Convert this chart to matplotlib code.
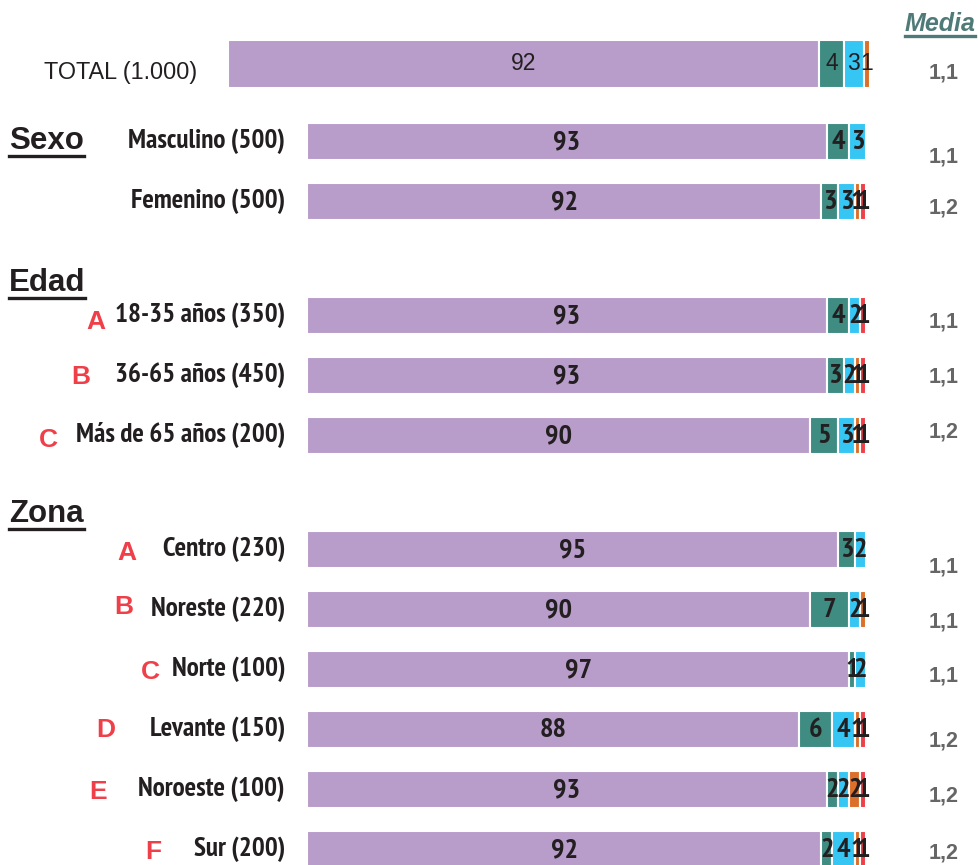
import matplotlib
matplotlib.use("Agg")
import matplotlib.pyplot as plt
from matplotlib import font_manager
from matplotlib.lines import Line2D

# ---------------- data ----------------
categories = ["TOTAL (1.000)", "Masculino (500)", "Femenino (500)",
              "18-35 años (350)", "36-65 años (450)", "Más de 65 años (200)",
              "Centro (230)", "Noreste (220)", "Norte (100)", "Levante (150)",
              "Noroeste (100)", "Sur (200)"]
letters = ["", "", "", "A", "B", "C", "A", "B", "C", "D", "E", "F"]
purple = [92, 93, 92, 93, 93, 90, 95, 90, 97, 88, 93, 92]
teal = [4, 4, 3, 4, 3, 5, 3, 7, 1, 6, 2, 2]
blue = [3, 3, 3, 2, 2, 3, 2, 2, 2, 4, 2, 4]
orange = [1, 0, 1, 0, 1, 1, 0, 1, 0, 1, 2, 1]
red = [0, 0, 1, 1, 1, 1, 0, 0, 0, 1, 1, 1]
media = ["1,1", "1,1", "1,2", "1,1", "1,1", "1,2",
         "1,1", "1,1", "1,1", "1,2", "1,2", "1,2"]
headings = ["Sexo", "Edad", "Zona"]

series = [purple, teal, blue, orange, red]
colors = ["#B89CCA", "#3E8C82", "#35C6F4", "#DC6F29", "#EF3F48"]

W, H = 979, 865
fig = plt.figure(figsize=(W / 100, H / 100), dpi=100)

bold_names = {f.name for f in font_manager.fontManager.ttflist
              if (f.weight if isinstance(f.weight, int) else 700 if f.weight == "bold" else 400) >= 700
              and f.style == "normal"}
narrow = "Liberation Sans"
for cand in ["Liberation Sans Narrow", "Arial Narrow", "Archivo Narrow",
             "PT Sans Narrow", "Roboto Condensed", "Fira Sans Condensed",
             "IBM Plex Sans Condensed", "Encode Sans Condensed", "Asap Condensed",
             "Barlow Semi Condensed", "Sofia Sans Condensed", "Pragati Narrow",
             "Open Sans Condensed", "DejaVu Sans Condensed"]:
    if cand in bold_names:
        narrow = cand
        break
arial = "Liberation Sans"

# ---------------- layout (pixels) ----------------
row_y = [64, 141, 201, 315, 375, 435, 549, 609, 669, 729, 789, 849]
media_dy = [9, 16, 7, 7, 2, -3, 18, 13, 7, 12, 7, 4]
letter_x = [0, 0, 0, 96, 81, 48, 127, 124, 150, 106, 98, 153]
letter_dy = [0, 0, 0, 7, 2, 5, 4, -2, 3, 1, 3, 3]
heading_y = [141, 283, 514]


def fx(x):
    return x / W


def fy(y):
    return 1 - y / H


# calibrate narrow font size so "Masculino (500)" is ~163 px wide
probe = fig.text(0, 0, "Masculino (500)", fontsize=18.5, family=narrow, weight="bold")
fig.canvas.draw()
pw = probe.get_window_extent(renderer=fig.canvas.get_renderer()).width
probe.remove()
nsize = min(19.5, 18.5 * 163.0 / pw)
dsize = nsize * 1.05

ax_tot = fig.add_axes([fx(228), 0, (870 - 228) / W, 1])
ax_main = fig.add_axes([fx(307), 0, (866 - 307) / W, 1])
for ax in (ax_tot, ax_main):
    ax.set_xlim(0, 100)
    ax.set_ylim(H, 0)
    ax.axis("off")
    ax.patch.set_alpha(0)

for i, cat in enumerate(categories):
    ax = ax_tot if i == 0 else ax_main
    h = 48 if i == 0 else 37
    left = 0
    for s, col in zip(series, colors):
        v = s[i]
        if v > 0:
            ax.barh(row_y[i], v, left=left, height=h, color=col,
                    edgecolor="white", linewidth=1.5)
            if i == 0:
                ax.text(left + v / 2, row_y[i], str(v), ha="center", va="center",
                        fontsize=16.5, color="#231F20", family=arial)
            else:
                ax.text(left + v / 2, row_y[i] + 1, str(v), ha="center", va="center",
                        fontsize=dsize, color="#231F20", family=narrow, weight="bold")
        left += v

    if i == 0:
        fig.text(fx(197), fy(row_y[i] + 8), cat, ha="right", va="center",
                 fontsize=16.8, color="#231F20", family=arial)
    else:
        fig.text(fx(285), fy(row_y[i]), cat, ha="right", va="center",
                 fontsize=nsize, color="#231F20", family=narrow, weight="bold")
    if letters[i]:
        fig.text(fx(letter_x[i]), fy(row_y[i] + letter_dy[i]), letters[i],
                 ha="center", va="center", fontsize=19, color="#EF3F48",
                 family=arial, weight="bold")
    fig.text(fx(944), fy(row_y[i] + media_dy[i]), media[i], ha="center", va="center",
             fontsize=15.5, color="#666666", family=arial, weight="bold")

texts_ul = []
for g, yy in zip(headings, heading_y):
    t = fig.text(fx(9), fy(yy), g, ha="left", va="center", fontsize=22.5,
                 color="#231F20", family=arial, weight="bold")
    texts_ul.append((t, "#231F20"))
tm = fig.text(fx(940), fy(24), "Media", ha="center", va="center", fontsize=18,
              color="#4F7A78", family=arial, weight="bold", style="italic")
texts_ul.append((tm, "#4F7A78"))

fig.canvas.draw()
r = fig.canvas.get_renderer()
for t, c in texts_ul:
    bb = t.get_window_extent(renderer=r)
    ylow = bb.y0 + 0.5
    fig.add_artist(Line2D([bb.x0 / W, bb.x1 / W], [ylow / H, ylow / H],
                          transform=fig.transFigure, color=c, linewidth=2.4))

fig.savefig("out.png", dpi=100)
